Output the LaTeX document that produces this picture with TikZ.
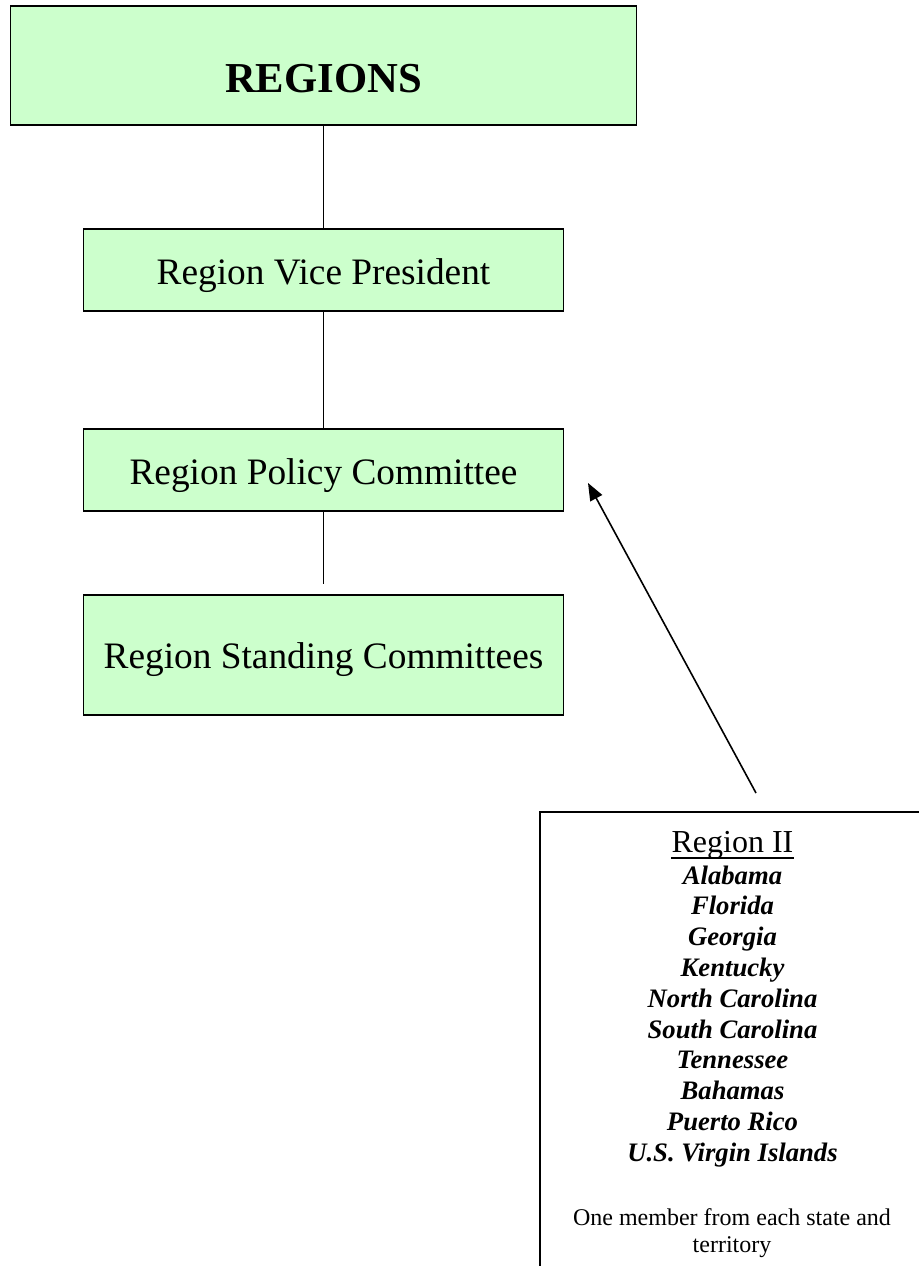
\documentclass[tikz,border=0pt]{standalone}
\usepackage{fontspec}
\setmainfont{Liberation Serif}
\usetikzlibrary{arrows.meta}
\definecolor{boxgreen}{HTML}{CCFFCC}

\begin{document}
\begin{tikzpicture}[x=0.75pt,y=-0.75pt,
	orgbox/.style={draw,line width=1.4pt,fill=boxgreen,inner sep=0pt,minimum width=360pt,minimum height=61.5pt,text height=21pt,text depth=0pt,font=\fontsize{28}{33}\selectfont},
	listline/.style={anchor=base,inner sep=0pt},
	statename/.style={listline,font=\fontsize{20}{23}\selectfont\bfseries\itshape}]
	%Page frame
	\useasboundingbox (0,0) rectangle (919,1266);
	\clip (0,0) rectangle (919,1266);

	%Chart boxes
	\node [orgbox,minimum width=469.5pt,minimum height=89.25pt,text height=41pt,font=\fontsize{32}{38}\selectfont\bfseries] (regions) at (323.5,65.5) {REGIONS};
	\node [orgbox] (vicepres) at (323.5,270) {Region Vice President};
	\node [orgbox] (policy) at (323.5,470) {Region Policy Committee};
	\node [orgbox,minimum height=90pt,text height=19.5pt] (standing) at (323.5,655) {Region Standing Committees};

	%Connecting lines
	\coordinate (policyend) at (323.5,584);
	\draw [line width=1.3pt] (regions.south) -- (vicepres.north);
	\draw [line width=1.3pt] (vicepres.south) -- (policy.north);
	\draw [line width=1.3pt] (policy.south) -- (policyend);

	%Arrow up to the policy committee
	\coordinate (arrowstart) at (756,793);
	\coordinate (arrowtip) at (588,483);
	\draw [line width=1.2pt,-{Triangle[length=13pt,width=10pt]}] (arrowstart) -- (arrowtip);

	%Region II box
	\draw [line width=1.4pt] (540,812) rectangle (930,1290);
	\node [listline,font=\fontsize{24}{28}\selectfont] (regiontwo) at (732.5,852.7) {Region II};
	\draw [line width=1.2pt] ([yshift=-4pt]regiontwo.base west) -- ([yshift=-4pt]regiontwo.base east);
	\foreach \state [count=\i from 0] in {Alabama,Florida,Georgia,Kentucky,North Carolina,South Carolina,Tennessee,Bahamas,Puerto Rico,{U.S. Virgin Islands}}
		\node [statename] (state\i) at (732.5,{884+30.8*\i}) {\state};
	\node [listline,font=\fontsize{18}{21}\selectfont] (onemember) at (732,1225) {One member from each state and};
	\node [listline,font=\fontsize{18}{21}\selectfont] (territory) at (732,1252.7) {territory};
\end{tikzpicture}
\end{document}
